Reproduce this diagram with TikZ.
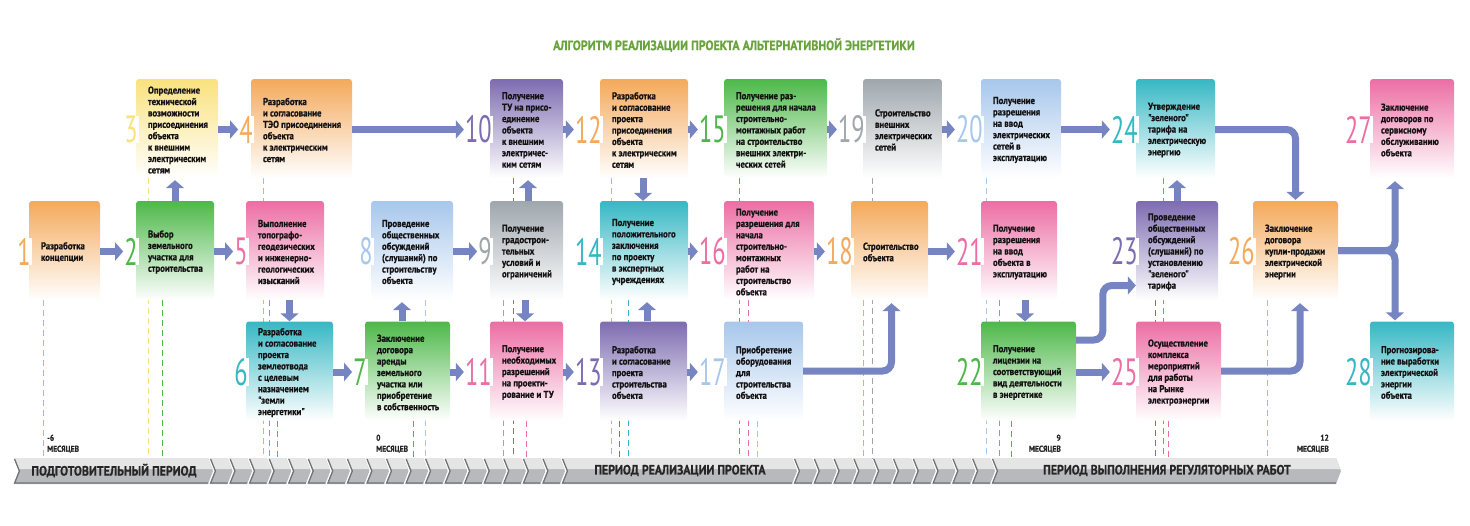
\documentclass[tikz,border=0pt]{standalone}
\usepackage{fontspec}
\setmainfont{PT Sans}
\newfontfamily\stepfamily{PT Sans}[FakeStretch=0.88, BoldFeatures={FakeBold=0.6}]
\newfontfamily\numfamily{PT Sans}[FakeStretch=0.64]
\usepackage{xcolor}
\usetikzlibrary{arrows.meta, backgrounds}
\definecolor{corange}{HTML}{F4A95B}
\definecolor{cgreen}{HTML}{4DB849}
\definecolor{cyellow}{HTML}{F9E27D}
\definecolor{cpink}{HTML}{EC6EA4}
\definecolor{cteal}{HTML}{36B8C4}
\definecolor{cblue}{HTML}{A7C7EC}
\definecolor{cgray}{HTML}{9FA7AD}
\definecolor{cpurple}{HTML}{7D6CB1}
\definecolor{flowblue}{HTML}{7784C2}
\definecolor{stepink}{HTML}{141213}
\definecolor{titlegreen}{HTML}{6AA23C}
\definecolor{bandink}{HTML}{262626}
\definecolor{bandhi}{HTML}{E5E5E6}
\definecolor{bandlo}{HTML}{B8B9BC}
\definecolor{bandedge}{HTML}{727376}
\newcommand\stepfont{\stepfamily\bfseries\fontsize{10}{11.4}\selectfont}
\newcommand\stepnumfont{\numfamily\fontsize{38}{38}\selectfont}
\newcommand\bandfont{\stepfamily\bfseries\fontsize{13.5}{14}\selectfont}
\newcommand\monthfont{\stepfamily\bfseries\fontsize{8.5}{11}\selectfont}
\newcommand\algtitlefont{\stepfamily\bfseries\fontsize{13.6}{15}\selectfont}
\tikzstyle{stepbox} = [rectangle, rounded corners=3pt, minimum height=99pt, inner sep=0pt, draw=none, bottom color=white]
\tikzstyle{steptext} = [anchor=west, align=left, inner sep=0pt, font=\stepfont, text=stepink]
\tikzstyle{stepnum} = [anchor=east, inner xsep=1pt, inner ysep=0pt, fill=white, font=\stepnumfont]
\tikzstyle{flow} = [line width=7pt, draw=flowblue, -{Triangle[length=8pt,width=18pt]}]
\tikzstyle{timedash} = [line width=1pt, dash pattern=on 6pt off 4pt]
\tikzstyle{chevlo} = [fill=bandlo]
\tikzstyle{chevhi} = [fill=bandhi]
\tikzstyle{chevedge} = [draw=bandedge, line width=1.3pt]
\tikzstyle{bandtext} = [font=\bandfont, text=bandink, inner sep=0pt]
\tikzstyle{monthlbl} = [font=\monthfont, text=bandink, inner sep=0pt]

\begin{document}
\begin{tikzpicture}[x=1pt, y=-1pt]
  \useasboundingbox (0,0) rectangle (1470,525);

  \node[font=\algtitlefont, text=titlegreen] (title) at (734,45)
    {АЛГОРИТМ РЕАЛИЗАЦИИ ПРОЕКТА АЛЬТЕРНАТИВНОЙ ЭНЕРГЕТИКИ};

  % steps
  \node[stepbox, top color=corange, minimum width=71pt] (b1) at (64.5,250.5) {};
  \node[steptext] (t1) at ([xshift=12pt,yshift=-1.5pt]b1.west) {Разработка\\концепции};
  \node[stepnum, text=corange] (n1) at ([xshift=3pt,yshift=-1pt]b1.west) {1};

  \node[stepbox, top color=cgreen, minimum width=78pt] (b2) at (175,250.5) {};
  \node[steptext] (t2) at ([xshift=12pt,yshift=-1.5pt]b2.west) {Выбор\\земельного\\участка для\\строительства};
  \node[stepnum, text=cgreen] (n2) at ([xshift=3pt,yshift=-1pt]b2.west) {2};

  \node[stepbox, top color=cyellow, minimum width=82pt] (b3) at (177,128.5) {};
  \node[steptext] (t3) at ([xshift=12pt,yshift=-1.5pt]b3.west) {Определение\\технической\\возможности\\присоединения\\объекта\\к внешним\\электрическим\\сетям};
  \node[stepnum, text=cyellow] (n3) at ([xshift=3pt,yshift=-1pt]b3.west) {3};

  \node[stepbox, top color=corange, minimum width=101pt] (b4) at (301.5,128.5) {};
  \node[steptext] (t4) at ([xshift=12pt,yshift=-1.5pt]b4.west) {Разработка\\и согласование\\ТЭО присоединения\\объекта\\к электрическим\\сетям};
  \node[stepnum, text=corange] (n4) at ([xshift=3pt,yshift=-1pt]b4.west) {4};

  \node[stepbox, top color=cpink, minimum width=78pt] (b5) at (285,250.5) {};
  \node[steptext] (t5) at ([xshift=12pt,yshift=-1.5pt]b5.west) {Выполнение\\топографо-\\геодезических\\и инженерно-\\геологических\\изысканий};
  \node[stepnum, text=cpink] (n5) at ([xshift=3pt,yshift=-1pt]b5.west) {5};

  \node[stepbox, top color=cteal, minimum width=87pt] (b6) at (289.5,371) {};
  \node[steptext] (t6) at ([xshift=12pt,yshift=-1.5pt]b6.west) {Разработка\\и согласование\\проекта\\землеотвода\\с целевым\\назначением\\"земли\\энергетики"};
  \node[stepnum, text=cteal] (n6) at ([xshift=3pt,yshift=-1pt]b6.west) {6};

  \node[stepbox, top color=cgreen, minimum width=85pt] (b7) at (407.5,371) {};
  \node[steptext] (t7) at ([xshift=12pt,yshift=-1.5pt]b7.west) {Заключение\\договора\\аренды\\земельного\\участка или\\приобретение\\в собственность};
  \node[stepnum, text=cgreen] (n7) at ([xshift=3pt,yshift=-1pt]b7.west) {7};

  \node[stepbox, top color=cblue, minimum width=82pt] (b8) at (412,250.5) {};
  \node[steptext] (t8) at ([xshift=11pt,yshift=-1.5pt]b8.west) {Проведение\\общественных\\обсуждений\\(слушаний) по\\строительству\\объекта};
  \node[stepnum, text=cblue] (n8) at ([xshift=3pt,yshift=-1pt]b8.west) {8};

  \node[stepbox, top color=cgray, minimum width=73pt] (b9) at (526.5,250.5) {};
  \node[steptext] (t9) at ([xshift=12pt,yshift=-1.5pt]b9.west) {Получение\\градострои-\\тельных\\условий и\\ограничений};
  \node[stepnum, text=cgray] (n9) at ([xshift=3pt,yshift=-1pt]b9.west) {9};

  \node[stepbox, top color=cpurple, minimum width=73pt] (b10) at (526.5,128.5) {};
  \node[steptext] (t10) at ([xshift=12pt,yshift=-1.5pt]b10.west) {Получение\\ТУ на присо-\\единение\\объекта\\к внешним\\электричес-\\ким сетям};
  \node[stepnum, text=cpurple] (n10) at ([xshift=3pt,yshift=-1pt]b10.west) {10};

  \node[stepbox, top color=cpink, minimum width=73pt] (b11) at (526.5,371) {};
  \node[steptext] (t11) at ([xshift=12pt,yshift=-1.5pt]b11.west) {Получение\\необходимых\\разрешений\\на проекти-\\рование и ТУ};
  \node[stepnum, text=cpink] (n11) at ([xshift=3pt,yshift=-1pt]b11.west) {11};

  \node[stepbox, top color=corange, minimum width=88pt] (b12) at (644,128.5) {};
  \node[steptext] (t12) at ([xshift=12pt,yshift=-1.5pt]b12.west) {Разработка\\и согласование\\проекта\\присоединения\\объекта\\к электрическим\\сетям};
  \node[stepnum, text=corange] (n12) at ([xshift=3pt,yshift=-1pt]b12.west) {12};

  \node[stepbox, top color=cpurple, minimum width=87pt] (b13) at (643.5,371) {};
  \node[steptext] (t13) at ([xshift=12pt,yshift=-1.5pt]b13.west) {Разработка\\и согласование\\проекта\\строительства\\объекта};
  \node[stepnum, text=cpurple] (n13) at ([xshift=3pt,yshift=-1pt]b13.west) {13};

  \node[stepbox, top color=cteal, minimum width=88pt] (b14) at (644,250.5) {};
  \node[steptext] (t14) at ([xshift=12pt,yshift=-1.5pt]b14.west) {Получение\\положительного\\заключения\\по проекту\\в экспертных\\учреждениях};
  \node[stepnum, text=cteal] (n14) at ([xshift=3pt,yshift=-1pt]b14.west) {14};

  \node[stepbox, top color=cgreen, minimum width=103pt] (b15) at (775.5,128.5) {};
  \node[steptext] (t15) at ([xshift=12pt,yshift=-1.5pt]b15.west) {Получение раз-\\решения для начала\\строительно-\\монтажных работ\\на строительство\\внешних электри-\\ческих сетей};
  \node[stepnum, text=cgreen] (n15) at ([xshift=3pt,yshift=-1pt]b15.west) {15};

  \node[stepbox, top color=cpink, minimum width=90pt] (b16) at (769,250.5) {};
  \node[steptext] (t16) at ([xshift=12pt,yshift=-1.5pt]b16.west) {Получение\\разрешения для\\начала\\строительно-\\монтажных\\работ на\\строительство\\объекта};
  \node[stepnum, text=cpink] (n16) at ([xshift=3pt,yshift=-1pt]b16.west) {16};

  \node[stepbox, top color=cblue, minimum width=79pt] (b17) at (763.5,371) {};
  \node[steptext] (t17) at ([xshift=12pt,yshift=-1.5pt]b17.west) {Приобретение\\оборудования\\для\\строительства\\объекта};
  \node[stepnum, text=cblue] (n17) at ([xshift=3pt,yshift=-1pt]b17.west) {17};

  \node[stepbox, top color=corange, minimum width=77pt] (b18) at (889.5,250.5) {};
  \node[steptext] (t18) at ([xshift=12pt,yshift=-1.5pt]b18.west) {Строительство\\объекта};
  \node[stepnum, text=corange] (n18) at ([xshift=3pt,yshift=-1pt]b18.west) {18};

  \node[stepbox, top color=cgray, minimum width=79pt] (b19) at (902.5,128.5) {};
  \node[steptext] (t19) at ([xshift=12pt,yshift=-1.5pt]b19.west) {Строительство\\внешних\\электрических\\сетей};
  \node[stepnum, text=cgray] (n19) at ([xshift=3pt,yshift=-1pt]b19.west) {19};

  \node[stepbox, top color=cblue, minimum width=80pt] (b20) at (1021,128.5) {};
  \node[steptext] (t20) at ([xshift=12pt,yshift=-1.5pt]b20.west) {Получение\\разрешения\\на ввод\\электрических\\сетей в\\эксплуатацию};
  \node[stepnum, text=cblue] (n20) at ([xshift=3pt,yshift=-1pt]b20.west) {20};

  \node[stepbox, top color=cpink, minimum width=76pt] (b21) at (1019,250.5) {};
  \node[steptext] (t21) at ([xshift=12pt,yshift=-1.5pt]b21.west) {Получение\\разрешения\\на ввод\\объекта в\\эксплуатацию};
  \node[stepnum, text=cpink] (n21) at ([xshift=3pt,yshift=-1pt]b21.west) {21};

  \node[stepbox, top color=cgreen, minimum width=95pt] (b22) at (1028.5,371) {};
  \node[steptext] (t22) at ([xshift=12pt,yshift=-1.5pt]b22.west) {Получение\\лицензии на\\соответствующий\\вид деятельности\\в энергетике};
  \node[stepnum, text=cgreen] (n22) at ([xshift=3pt,yshift=-1pt]b22.west) {22};

  \node[stepbox, top color=cpurple, minimum width=82pt] (b23) at (1177,250.5) {};
  \node[steptext] (t23) at ([xshift=12pt,yshift=-1.5pt]b23.west) {Проведение\\общественных\\обсуждений\\(слушаний) по\\установлению\\"зеленого"\\тарифа};
  \node[stepnum, text=cpurple] (n23) at ([xshift=3pt,yshift=-1pt]b23.west) {23};

  \node[stepbox, top color=cteal, minimum width=79pt] (b24) at (1175.5,128.5) {};
  \node[steptext] (t24) at ([xshift=12pt,yshift=-1.5pt]b24.west) {Утверждение\\"зеленого"\\тарифа на\\электрическую\\энергию};
  \node[stepnum, text=cteal] (n24) at ([xshift=3pt,yshift=-1pt]b24.west) {24};

  \node[stepbox, top color=cpink, minimum width=85pt] (b25) at (1178.5,371) {};
  \node[steptext] (t25) at ([xshift=12pt,yshift=-1.5pt]b25.west) {Осуществление\\комплекса\\мероприятий\\для работы\\на Рынке\\электроэнергии};
  \node[stepnum, text=cpink] (n25) at ([xshift=3pt,yshift=-1pt]b25.west) {25};

  \node[stepbox, top color=corange, minimum width=85pt] (b26) at (1295.5,250.5) {};
  \node[steptext] (t26) at ([xshift=12pt,yshift=-1.5pt]b26.west) {Заключение\\договора\\купли-продажи\\электрической\\энергии};
  \node[stepnum, text=corange] (n26) at ([xshift=3pt,yshift=-1pt]b26.west) {26};

  \node[stepbox, top color=cpink, minimum width=84pt] (b27) at (1412,128.5) {};
  \node[steptext] (t27) at ([xshift=11pt,yshift=-1.5pt]b27.west) {Заключение\\договоров по\\сервисному\\обслуживанию\\объекта};
  \node[stepnum, text=cpink] (n27) at ([xshift=3pt,yshift=-1pt]b27.west) {27};

  \node[stepbox, top color=cteal, minimum width=84pt] (b28) at (1412,371) {};
  \node[steptext] (t28) at ([xshift=11pt,yshift=-1.5pt]b28.west) {Прогнозирова-\\ние выработки\\электрической\\энергии\\объекта};
  \node[stepnum, text=cteal] (n28) at ([xshift=3pt,yshift=-1pt]b28.west) {28};

  % time marks behind the steps
  \begin{scope}[on background layer]
    \foreach \b/\x/\c in {1/43/corange, 3/148/cyellow, 2/162/cgreen, 4/263/corange, 5/269/cpink,
        6/277/cteal, 7/413/cgreen, 8/425/cblue, 9/503/cgray, 10/513/cpurple, 11/526/cpink,
        12/611/corange, 13/619/cpurple, 14/628/cteal, 15/739/cgreen, 16/748/cpink, 17/757/cblue,
        18/863/corange, 19/872/cgray, 20/986/cblue, 21/999/cpink, 22/1011/cgreen,
        23/1155/cpurple, 24/1163/cteal, 25/1168/cpink, 26/1267/corange}
      \draw[timedash, draw=\c] (b\b.south -| \x,0) -- (\x,459);
  \end{scope}

  % flow arrows
  \draw[flow] (b1.east |- n2) -- (n2.west);
  \draw[flow] (b2.east |- n5) -- (n5.west);
  \draw[flow] (b3.east |- n4) -- (n4.west);
  \draw[flow] (b4.east |- n10) -- (n10.west);
  \draw[flow] (b10.east |- n12) -- (n12.west);
  \draw[flow] (b12.east |- n15) -- (n15.west);
  \draw[flow] (b15.east |- n19) -- (n19.west);
  \draw[flow] (b19.east |- n20) -- (n20.west);
  \draw[flow] (b20.east |- n24) -- (n24.west);
  \draw[flow] (b8.east |- n9) -- (n9.west);
  \draw[flow] (b14.east |- n16) -- (n16.west);
  \draw[flow] (b16.east |- n18) -- (n18.west);
  \draw[flow] (b18.east |- n21) -- (n21.west);
  \draw[flow] (b6.east |- n7) -- (n7.west);
  \draw[flow] (b7.east |- n11) -- (n11.west);
  \draw[flow] (b11.east |- n13) -- (n13.west);
  \draw[flow] (b13.east |- n17) -- (n17.west);
  \draw[flow] (b22.east |- n25) -- (n25.west);

  \draw[flow, shorten >=2pt] (b2.north) -- (b2.north |- b3.south);
  \draw[flow] (b5.south -| b6.north) -- (b6.north);
  \draw[flow, shorten >=2pt] ([xshift=-5.5pt]b7.north) -- ([xshift=-5.5pt]b7.north |- b8.south);
  \draw[flow, shorten >=2pt] ([xshift=1.5pt]b9.north) -- ([xshift=1.5pt]b10.south);
  \draw[flow] ([xshift=-1.5pt]b9.south) -- ([xshift=-1.5pt]b11.north);
  \draw[flow] ([xshift=-1pt]b12.south) -- ([xshift=-1pt]b14.north);
  \draw[flow, shorten >=2pt] ([xshift=3.5pt]b13.north) -- ([xshift=3pt]b14.south);
  \draw[flow] ([xshift=-3.5pt]b22.north |- b21.south) -- ([xshift=-3.5pt]b22.north);
  \draw[flow, shorten >=2pt] (b23.north) -- (b23.north |- b24.south);

  \draw[flow, rounded corners=9pt] (b17.east) -| ([xshift=2pt,yshift=-3pt]b18.south);
  \draw[flow, rounded corners=9pt] ([yshift=31pt]b22.east) -| ([xshift=-33pt,yshift=-35pt]b23.west)
    -- ([yshift=-35pt]b23.west);
  \draw[flow, rounded corners=9pt] ([yshift=-1pt]b24.east) -| ([yshift=1pt]b26.north);
  \draw[flow, rounded corners=9pt] (b25.east) -| ([xshift=4.5pt,yshift=-3pt]b26.south);
  \draw[flow, rounded corners=9pt] (b26.east) -| ([xshift=-17pt,yshift=-3pt]b27.south);
  \draw[flow, rounded corners=9pt] (b26.east) -| ([xshift=-17pt,yshift=1pt]b28.north);

  % timeline
  \foreach \a/\b in {14/210, 562/794, 992/1338} {
    \path[chevlo] (\a,458) -- (\a+5,471) -- (\a,484) -- (\b-2,484) -- (\b+3,471) -- (\b-2,458) -- cycle;
    \path[chevhi] (\a,458) -- (\a+4.2,469) -- (\b+2.2,469) -- (\b-2,458) -- cycle;
    \draw[chevedge] (\a+0.6,459) -- (\a+5.4,471) -- (\a+0.6,483) -- (\b-2,483);
  }
  \foreach \i in {0,...,17} {
    \pgfmathsetmacro\a{210+19.556*\i}
    \pgfmathsetmacro\b{\a+19.556}
    \path[chevlo] (\a,458) -- (\a+5,471) -- (\a,484) -- (\b-2,484) -- (\b+3,471) -- (\b-2,458) -- cycle;
    \path[chevhi] (\a,458) -- (\a+4.2,469) -- (\b+2.2,469) -- (\b-2,458) -- cycle;
    \draw[chevedge] (\a+0.6,459) -- (\a+5.4,471) -- (\a+0.6,483) -- (\b-2,483);
  }
  \foreach \i in {0,...,9} {
    \pgfmathsetmacro\a{794+19.8*\i}
    \pgfmathsetmacro\b{\a+19.8}
    \path[chevlo] (\a,458) -- (\a+5,471) -- (\a,484) -- (\b-2,484) -- (\b+3,471) -- (\b-2,458) -- cycle;
    \path[chevhi] (\a,458) -- (\a+4.2,469) -- (\b+2.2,469) -- (\b-2,458) -- cycle;
    \draw[chevedge] (\a+0.6,459) -- (\a+5.4,471) -- (\a+0.6,483) -- (\b-2,483);
  }
  \node[bandtext] (prep) at (114,470.5) {ПОДГОТОВИТЕЛЬНЫЙ ПЕРИОД};
  \node[bandtext] (impl) at (680,470.5) {ПЕРИОД РЕАЛИЗАЦИИ ПРОЕКТА};
  \node[bandtext] (regul) at (1167,470.5) {ПЕРИОД ВЫПОЛНЕНИЯ РЕГУЛЯТОРНЫХ РАБОТ};

  \node[monthlbl, align=left, anchor=south west] (mstart) at (47,453) {-6\\МЕСЯЦЕВ};
  \node[monthlbl, align=left, anchor=south west] (mzero) at (376,453) {0\\МЕСЯЦЕВ};
  \node[monthlbl, align=right, anchor=south east] (mnine) at (1061,453) {9\\МЕСЯЦЕВ};
  \node[monthlbl, align=right, anchor=south east] (mtwelve) at (1329,453) {12\\МЕСЯЦЕВ};
\end{tikzpicture}
\end{document}
